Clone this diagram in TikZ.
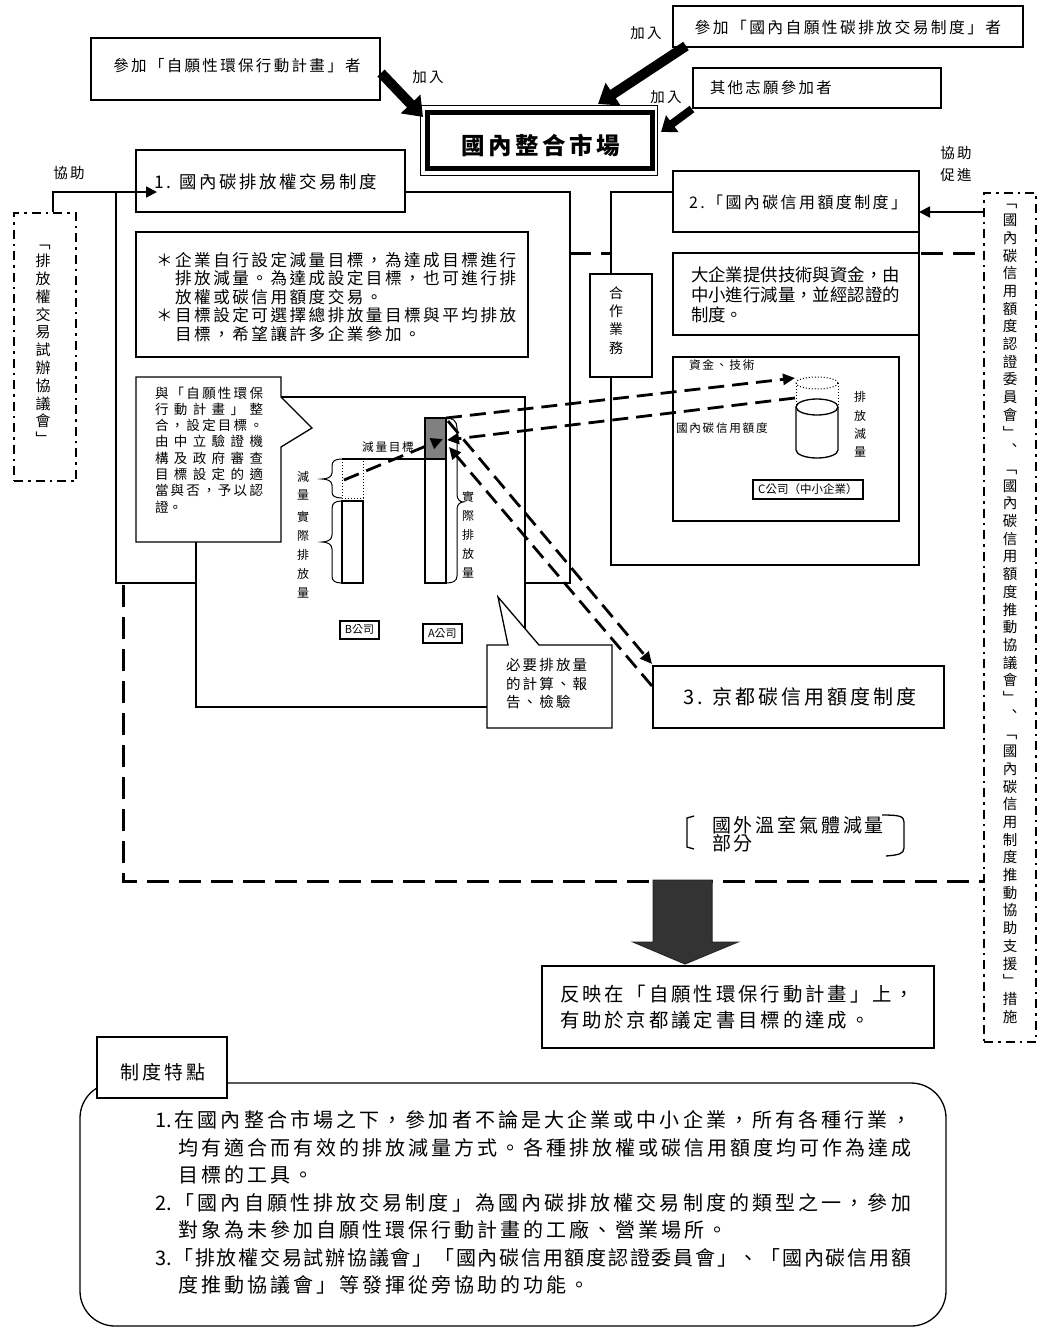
\documentclass[tikz,border=0pt]{standalone}
\usepackage{fontspec}
\setmainfont{Noto Sans CJK TC}
\newfontfamily\cj{Noto Sans CJK TC}[LetterSpace=15]
\usetikzlibrary{arrows.meta,calc}
\makeatletter
\newcommand\fsz[1]{\fontsize{#1}{#1}\selectfont}
\newcommand\vstk[2]{\vbox{\baselineskip=#1\lineskiplimit=-100pt\lineskip=0pt\@tfor\vs@c:=#2\do{\hbox to 1em{\hss\vs@c\hss}}}}
\newcommand\jl[2]{\hbox to #1{\@tfor\jl@c:=#2\do{\jl@c\hfil}\unskip}}
\makeatother
\begin{document}
\begin{tikzpicture}[x=1pt,y=-1pt,
 bx/.style={draw,line width=1.3pt,fill=white,inner sep=0pt,outer sep=0pt},
 tx/.style={inner sep=0pt,outer sep=0pt},
 ln/.style={line width=1.3pt},
 dd/.style={draw,line width=2.4pt,dash pattern=on 9pt off 5pt on 2.5pt off 5pt,fill=white,inner sep=0pt},
 bigdash/.style={line width=3pt,dash pattern=on 22pt off 10pt},
 darr/.style={line width=2.8pt,dash pattern=on 16pt off 8pt,-{Triangle[length=12pt,width=11pt]}},
 fat/.style={line width=10pt,-{Triangle[length=18pt,width=26pt]}},
 fats/.style={line width=8pt,-{Triangle[length=14pt,width=20pt]}},
 sarr/.style={line width=1.8pt,-{Triangle[length=11pt,width=11pt]}}
]
\useasboundingbox (0,0) rectangle (1039,1328);
\fill[white] (0,0) rectangle (1039,1328);

% big dashed frame (open on the right, where the dash-dot box stands)
\draw[bigdash] (975,253) -- (123,253) -- (123,881) -- (983,881);

% section frames
\node[bx,anchor=north west,minimum width=454pt,minimum height=391pt] (s1) at (116,192) {};
\node[bx,anchor=north west,minimum width=308pt,minimum height=373pt] (s2) at (611,192) {};

% side dash-dot boxes
\node[dd,anchor=north west,minimum width=52pt,minimum height=849pt] (rdd) at (983,192) {};
\node[tx,font=\fsz{14.5}] (rddt) at (1010,614) {\vstk{17.7pt}{﹁國內碳信用額度認證委員會﹂︑﹁國內碳信用額度推動協議會﹂︑﹁國內碳信用制度推動協助支援﹂措施}};
\node[dd,anchor=north west,minimum width=62pt,minimum height=268pt] (ldd) at (13,212) {};
\node[tx,font=\fsz{15}] (lddt) at (43,345) {\vstk{17.8pt}{﹁排放權交易試辦協議會﹂}};

% top participant boxes
\node[bx,anchor=north west,minimum width=289pt,minimum height=62pt] (a1) at (91,38) {};
\node[tx,font=\cj\fsz{15.5}] (a1t) at (237,66) {參加「自願性環保行動計畫」者};
\node[bx,anchor=north west,minimum width=350pt,minimum height=41pt] (a2) at (673,6) {};
\node[tx,font=\cj\fsz{15.8}] (a2t) at (848,27) {參加「國內自願性碳排放交易制度」者};
\node[bx,anchor=north west,minimum width=248pt,minimum height=40pt] (a3) at (693,68) {};
\node[tx,anchor=west,font=\cj\fsz{15.4}] (a3t) at (710,88) {其他志願參加者};
\node[tx,font=\cj\fsz{14.5}] (j1) at (428,77) {加入};
\node[tx,font=\cj\fsz{14.5}] (j2) at (646,33) {加入};
\node[tx,font=\cj\fsz{14.5}] (j3) at (666,97) {加入};

% market box
\node[tx,minimum width=237pt,minimum height=70pt] (mkt) at (538.5,140) {};
\draw[line width=1pt,fill=white] (mkt.north west) rectangle (mkt.south east);
\draw[line width=5pt] ($(mkt.north west)+(7.5,7.5)$) rectangle ($(mkt.south east)+(-5,-7)$);
\node[tx,font=\cj\bfseries\fsz{23.5}] (mktt) at (541,145) {國內整合市場};

% fat arrows
\coordinate (f1s) at (381,73); \coordinate (f1e) at (423,117);
\draw[fat] (f1s) -- (f1e);
\coordinate (f2s) at (686,46); \coordinate (f2e) at (598,104);
\draw[fat] (f2s) -- (f2e);
\coordinate (f3s) at (692,109); \coordinate (f3e) at (661,132);
\draw[fats] (f3s) -- (f3e);

% box 1 and box 2
\node[bx,anchor=north west,minimum width=269pt,minimum height=62pt] (b1) at (136,150) {};
\node[tx,anchor=west,font=\cj\fsz{17.4}] (b1t) at (154,182) {1. 國內碳排放權交易制度};
\node[bx,anchor=north west,minimum width=246pt,minimum height=61pt] (b2) at (673,171) {};
\node[tx,anchor=west,font=\cj\fsz{16}] (b2t) at (689,202) {2.「國內碳信用額度制度」};
\node[tx,font=\cj\fsz{14.5}] (hz1) at (69,173) {協助};
\node[tx,font=\cj\fsz{14.5}] (hz2) at (956,153) {協助};
\node[tx,font=\cj\fsz{14.5}] (hz3) at (956,175) {促進};
\coordinate (lin) at (53,212); \coordinate (lend) at (157,192);
\draw[sarr] (lin) |- (lend);
\coordinate (rin) at (983,212);
\draw[sarr] (rin) -- (b2.east |- rin);

% description box of system 1
\node[bx,anchor=north west,minimum width=392pt,minimum height=125pt] (q) at (136,232) {};
\node[tx,anchor=base west,font=\cj\fsz{16.6}] (qt) at (156,266) {\vtop{\baselineskip=18.6pt\lineskiplimit=-100pt
\hbox{＊企業自行設定減量目標，為達成目標進行}
\hbox{　排放減量。為達成設定目標，也可進行排}
\hbox{　放權或碳信用額度交易。}
\hbox{＊目標設定可選擇總排放量目標與平均排放}
\hbox{　目標，希望讓許多企業參加。}}};

% description box of system 2
\node[bx,anchor=north west,minimum width=246pt,minimum height=82pt] (d) at (673,253) {};
\node[tx,anchor=base west,font=\fsz{17.4}] (dt) at (691,281.6) {\vtop{\baselineskip=20pt\lineskiplimit=-100pt
\hbox{大企業提供技術與資金，由}
\hbox{中小進行減量，並經認證的}
\hbox{制度。}}};

% cooperation box
\node[bx,anchor=north west,minimum width=62pt,minimum height=103pt] (coop) at (590,274) {};
\node[tx,font=\fsz{14}] (coopt) at (616,320.5) {\vstk{18.3pt}{合作業務}};

% C company box
\node[bx,anchor=north west,minimum width=226pt,minimum height=164pt] (cb) at (673,357) {};
\node[tx,anchor=west,font=\cj\fsz{11.7}] (cl1) at (689,365) {資金、技術};
\node[tx,anchor=west,font=\cj\fsz{11.6}] (cl2) at (676,428) {國內碳信用額度};
\node[tx,font=\fsz{12}] (cl3) at (860,424.5) {\vstk{18.3pt}{排放減量}};
\draw[dotted,line width=1pt] (817,383) ellipse (21pt and 6pt);
\draw[dotted,line width=1pt] (796,383) -- (796,407) (838,383) -- (838,407);
\draw[ln,fill=white] (796,407) -- (796,450) arc[start angle=180,end angle=360,x radius=21pt,y radius=8pt] -- (838,407);
\draw[ln,fill=white] (817,407) ellipse (21pt and 8pt);
\node[draw,line width=1.8pt,anchor=north west,minimum width=110pt,minimum height=19pt,inner sep=0pt,font=\fsz{11.5}] (cco) at (752,479) {C公司（中小企業）};

% panel of system 1
\node[bx,anchor=north west,minimum width=329pt,minimum height=310pt] (pn) at (196,397) {};
\draw[ln,fill=white] (136,377) -- (281,377) -- (281,397) -- (312,428) -- (281,447) -- (281,542) -- (136,542) -- cycle;
\node[tx,anchor=base west,font=\fsz{13.5}] (c1t) at (155,398) {\vtop{\baselineskip=16.3pt\lineskiplimit=-100pt
\jl{108pt}{與「自願性環保}
\jl{108pt}{行動計畫」整}
\jl{108pt}{合，設定目標。}
\jl{108pt}{由中立驗證機}
\jl{108pt}{構及政府審查}
\jl{108pt}{目標設定的適}
\jl{108pt}{當與否，予以認}
\hbox{證。}}};
\draw[ln,fill=white] (487,645) -- (508,645) -- (498,597) -- (539,645) -- (612,645) -- (612,728) -- (487,728) -- cycle;
\node[tx,anchor=base west,font=\cj\fsz{14.5}] (c2t) at (506,670.5) {\vtop{\baselineskip=18.5pt\lineskiplimit=-100pt
\hbox{必要排放量}
\hbox{的計算、報}
\hbox{告、檢驗}}};

% bars
\draw[dotted,line width=1pt] (342,459) -- (342,498) -- (363,498) -- (363,459);
\draw[ln] (342,459) -- (425,459);
\node[bx,anchor=north west,minimum width=21pt,minimum height=82pt] (barB) at (342,501) {};
\node[bx,anchor=north west,minimum width=21pt,minimum height=165pt] (barA) at (425,418) {};
\node[bx,fill=black!50,anchor=north west,minimum width=21pt,minimum height=41pt] (barAt) at (425,418) {};
\draw[line width=1pt] (342,459) .. controls (335,459) and (332,461) .. (332,466) -- (332,473) .. controls (332,477) and (327,479) .. (322,479) .. controls (327,479) and (332,481) .. (332,485) -- (332,492) .. controls (332,496) and (335,498) .. (342,498);
\draw[line width=1pt] (342,501) .. controls (335,501) and (332,503) .. (332,509) -- (332,535) .. controls (332,540) and (327,542) .. (322,542) .. controls (327,542) and (332,544) .. (332,549) -- (332,576) .. controls (332,581) and (335,583) .. (342,583);
\draw[line width=1pt] (446,418) .. controls (453,418) and (457,421) .. (457,428) -- (457,495) .. controls (457,499) and (460,502) .. (463,502) .. controls (460,502) and (457,505) .. (457,509) -- (457,576) .. controls (457,581) and (453,583) .. (446,583);
\node[tx,font=\fsz{12}] (lbJ) at (303,486) {\vstk{18pt}{減量}};
\node[tx,font=\fsz{12}] (lbS) at (303,555) {\vstk{19pt}{實際排放量}};
\node[tx,font=\fsz{12}] (lbA) at (468,535) {\vstk{19pt}{實際排放量}};
\node[tx,font=\cj\fsz{11.6}] (lbT) at (388,447) {減量目標};
\node[draw,line width=1.8pt,anchor=north west,minimum width=39pt,minimum height=18pt,inner sep=0pt,font=\fsz{11}] (coB) at (339,620) {B公司};
\node[draw,line width=1.8pt,anchor=north west,minimum width=39pt,minimum height=19pt,inner sep=0pt,font=\fsz{11}] (coA) at (422,623) {A公司};

% box 3
\node[bx,anchor=north west,minimum width=291pt,minimum height=62pt] (b3) at (653,666) {};
\node[tx,anchor=west,font=\cj\fsz{20}] (b3t) at (683,697) {3. 京都碳信用額度制度};

% dashed arrows
\coordinate (bMid) at (344,480); \coordinate (aIn0) at (443,439);
\draw[darr] (bMid) -- (aIn0);
\coordinate (aTR) at (446,418); \coordinate (cylTL) at (795,378);
\draw[darr] (aTR) -- (cylTL);
\coordinate (cylL) at (795,398); \coordinate (aIn1) at (447,440);
\draw[darr] (cylL) -- (aIn1);
\coordinate (aOut) at (448,421); \coordinate (b3TL) at (652,664);
\draw[darr] (aOut) -- (b3TL);
\coordinate (b3L) at (652,686); \coordinate (aIn2) at (449,447);
\draw[darr] (b3L) -- (aIn2);

% overseas reduction
\draw[ln] (694,816) -- (687,818) -- (687,847) -- (694,849);
\draw[ln] (882,815) .. controls (899,815) and (904,816) .. (904,822) -- (904,848) .. controls (904,854) and (898,855) .. (886,856);
\node[tx,anchor=west,font=\cj\fsz{19}] (ovs1) at (712,825) {國外溫室氣體減量};
\node[tx,anchor=west,font=\cj\fsz{19}] (ovs2) at (712,843) {部分};

% down arrow and result
\filldraw[fill=black!80,draw=black!85,line width=1pt] (653,880) -- (712,880) -- (712,942) -- (738,942) -- (685,964) -- (633,942) -- (653,942) -- cycle;
\node[bx,anchor=north west,minimum width=392pt,minimum height=82pt] (res) at (542,966) {};
\node[tx,anchor=base west,font=\cj\fsz{19.4}] (rest) at (560,1001.4) {\vtop{\baselineskip=26pt\lineskiplimit=-100pt
\hbox{反映在「自願性環保行動計畫」上，}
\hbox{有助於京都議定書目標的達成。}}};

% features
\draw[ln,rounded corners=35pt] (80,1083) rectangle (946,1326);
\node[bx,anchor=north west,minimum width=130pt,minimum height=61pt] (fb) at (97,1037) {};
\node[tx,font=\cj\fsz{19}] (fbt) at (163,1072) {制度特點};
\node[tx,anchor=base west,font=\fsz{20}] (ft) at (155,1127.6) {\vtop{\baselineskip=27.5pt\lineskiplimit=-100pt
\jl{756pt}{{1.}在國內整合市場之下，參加者不論是大企業或中小企業，所有各種行業，}
\hbox{\kern23pt\jl{733pt}{均有適合而有效的排放減量方式。各種排放權或碳信用額度均可作為達成}}
\hbox{\kern23pt\cj 目標的工具。}
\jl{756pt}{{2.}「國內自願性排放交易制度」為國內碳排放權交易制度的類型之一，參加}
\hbox{\kern23pt\cj 對象為未參加自願性環保行動計畫的工廠、營業場所。}
\jl{756pt}{{3.}「排放權交易試辦協議會」「國內碳信用額度認證委員會」、「國內碳信用額}
\hbox{\kern23pt\cj 度推動協議會」等發揮從旁協助的功能。}}};
\end{tikzpicture}
\end{document}
